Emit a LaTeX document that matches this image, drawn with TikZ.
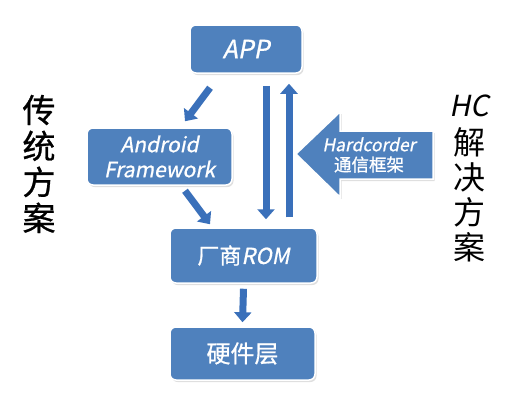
\documentclass[tikz,border=0pt]{standalone}
\usepackage{fontspec}
\setmainfont{Noto Sans CJK SC}[AutoFakeSlant=0.2, AutoFakeBold=0.8]
\usetikzlibrary{arrows.meta,calc,shadows,positioning}
\definecolor{boxblue}{RGB}{79,129,189}
\definecolor{arrowblue}{RGB}{58,112,186}
\tikzset{
  layer/.style={rounded corners=6pt, fill=boxblue, draw=white, line width=1.5pt,
    drop shadow={opacity=0.25, shadow xshift=1.5pt, shadow yshift=-2pt},
    text=white, align=center, inner sep=0pt},
  flow/.style={draw=arrowblue, line width=7pt,
    -{Triangle[width=17pt,length=10pt]}},
  side/.style={align=center, inner sep=0pt}
}
\begin{document}
\begin{tikzpicture}[x=1pt,y=-1pt]
  \useasboundingbox (0,0) rectangle (527,407);
  % layers
  \node[layer, minimum width=112pt, minimum height=48pt,
    font=\fontsize{25}{28}\selectfont\bfseries\itshape] (app) at (246,49) {APP};
  \node[layer, minimum width=145pt, minimum height=57pt,
    font=\fontsize{21}{25}\selectfont\bfseries\itshape] (fw) at (159.5,156.5) {Android\\Framework};
  \node[layer, minimum width=147pt, minimum height=55pt,
    font=\fontsize{22}{24}\selectfont\bfseries] (rom) at (243.5,255.5) {厂商{\itshape ROM}};
  \node[layer, minimum width=145pt, minimum height=53pt,
    font=\fontsize{24}{26}\selectfont\bfseries] (hw) at (242.5,353.5) {硬件层};
  % hardcorder arrow
  \filldraw[fill=boxblue, draw=white, line width=1.5pt,
    drop shadow={opacity=0.25, shadow xshift=1.5pt, shadow yshift=-2pt}]
    (296,154) -- (340,112) -- (340,131) -- (433,131) -- (433,179)
    -- (340,179) -- (340,197) -- cycle;
  \node[side, text=white, font=\fontsize{17.5}{20}\selectfont\bfseries] (hc) at (369,155)
    {\textit{Hardcorder}\\通信框架};
  % flows
  \draw[flow] ($(app.south)+(-36,14)$) -- ($(fw.north)+(25.5,-6)$);
  \draw[flow] ($(fw.south)+(25.5,5)$) -- ($(rom.north)+(-33.5,-3)$);
  \draw[flow] ($(app.south)+(20,12)$) -- ($(rom.north)+(22.5,-8)$);
  \draw[flow] ($(rom.north)+(45.5,-10)$) -- ($(app.south)+(43,10)$);
  \draw[flow] ($(rom.south)+(0,5)$) -- ($(hw.north)+(0,-4)$);
  % side labels
  \node[side, font=\fontsize{33}{36}\selectfont\bfseries] (old) at (39,164) {传\\统\\方\\案};
  \node[side, font=\fontsize{29}{34}\selectfont\itshape] (hcname) at (469,106) {HC};
  \node[side, font=\fontsize{32}{35}\selectfont] (new) at (469,195) {解\\决\\方\\案};
\end{tikzpicture}
\end{document}
